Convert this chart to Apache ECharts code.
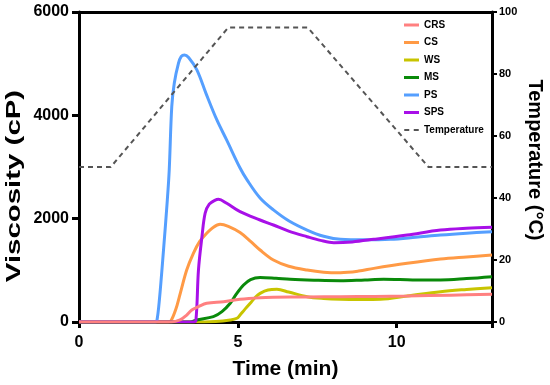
<!DOCTYPE html>
<html>
<head>
<meta charset="utf-8">
<script src="https://cdn.jsdelivr.net/npm/echarts@6/dist/echarts.min.js"></script>
<style>html,body{margin:0;padding:0;background:#fff}#c{width:550px;height:385px}</style>
</head>
<body>
<div id="c"></div>
<script>
// Data: [time (min), viscosity (cP)]
const CRS = [[0,0],[2.9,0],[3.18,39],[3.39,135],[3.55,232],[3.76,297],[4.02,362],[4.55,393],[5.07,440],[5.7,470],[6.12,478],[7.2,485],[8.23,490],[9.3,495],[10.33,503],[11.7,520],[13,536]];
const CS = [[0,0],[2.8,0],[2.9,30],[3.05,250],[3.16,490],[3.39,1006],[3.6,1330],[3.8,1560],[4.02,1717],[4.2,1820],[4.44,1890],[4.7,1850],[5.07,1730],[5.4,1560],[5.7,1393],[6.12,1200],[6.6,1080],[7.18,1006],[7.7,965],[8.23,955],[8.8,985],[9.28,1038],[10.33,1136],[11.38,1219],[12.2,1260],[13,1297]];
const WS = [[0,0],[3.5,0],[4.3,10],[4.76,39],[4.97,72],[5.07,135],[5.2,230],[5.39,362],[5.55,480],[5.7,555],[5.95,620],[6.23,632],[6.6,580],[7.18,490],[7.7,455],[8.23,439],[8.9,435],[9.49,439],[10.33,503],[11.38,587],[12.2,630],[13,664]];
const MS = [[0,0],[3.5,0],[3.7,39],[4.23,103],[4.5,200],[4.76,362],[4.95,540],[5.18,716],[5.4,820],[5.7,860],[6.2,845],[6.65,826],[7.4,810],[8.23,800],[9.0,815],[9.59,826],[10.5,815],[11.38,813],[12.2,840],[13,877]];
const PS = [[0,0],[2.4,0],[2.45,20],[2.53,426],[2.66,1393],[2.78,2361],[2.84,2940],[2.92,4167],[3.0,4625],[3.13,5006],[3.22,5140],[3.32,5170],[3.45,5120],[3.71,4880],[4.0,4420],[4.34,3910],[4.65,3520],[5.07,2980],[5.29,2750],[5.7,2400],[6.12,2170],[6.6,1960],[7.18,1780],[7.7,1660],[8.23,1600],[9.0,1590],[9.8,1600],[10.6,1640],[11.38,1684],[12.2,1720],[13.0,1748]];
const SPS = [[0,0],[3.6,0],[3.68,30],[3.76,1006],[3.87,1651],[3.97,2104],[4.1,2280],[4.29,2360],[4.39,2375],[4.65,2297],[5.07,2135],[5.7,1974],[6.12,1877],[6.6,1760],[7.18,1651],[7.6,1580],[8.02,1535],[8.6,1550],[9.28,1600],[10.33,1684],[11.38,1780],[12.2,1815],[13,1832]];
// Temperature profile [time (min), °C]
const TEMP = [[0,50],[1,50],[4.7,95],[7.2,95],[11,50],[13,50]];
const xTicks = [0,5,10];
const yTicks = [0,2000,4000,6000];
const tTicks = [0,20,40,60,80,100];

const FONT = '"Liberation Sans", Arial, sans-serif';
const chart = echarts.init(document.getElementById('c'), null, {renderer:'canvas'});
const mk = (name, data, color, z) => ({
  name, type:'line', data, smooth:0.35, symbol:'none', z,
  lineStyle:{color, width:3}, itemStyle:{color}
});
const axisLine = {show:true, onZero:false, lineStyle:{color:'#000', width:3}};
chart.setOption({
  animation:false,
  grid:{left:79, right:58, top:12, bottom:63, containLabel:false},
  legend:{
    orient:'vertical', left:399, top:14, itemWidth:15, itemHeight:3, itemGap:5.5,
    textStyle:{fontFamily:FONT, fontWeight:'bold', fontSize:10, color:'#000', lineHeight:12},
    data:[
      {name:'CRS', icon:'rect'},{name:'CS', icon:'rect'},{name:'WS', icon:'rect'},
      {name:'MS', icon:'rect'},{name:'PS', icon:'rect'},{name:'SPS', icon:'rect'},
      {name:'Temperature', icon:'path://M0 0.5H5V2.5H0Z M9.5 0.5H14.5V2.5H9.5Z M14.5 0V3H14.5Z'}
    ]
  },
  xAxis:[{
    type:'value', min:0, max:13, interval:5,
    name:'Time (min)', nameLocation:'middle', nameGap:37,
    nameTextStyle:{fontFamily:FONT, fontWeight:'bold', fontSize:21, color:'#000'},
    axisLine,
    axisTick:{show:true, length:6, lineStyle:{color:'#000', width:3}},
    axisLabel:{fontFamily:FONT, fontWeight:'bold', fontSize:16, color:'#000', margin:13,
      formatter:v => xTicks.includes(v) ? String(v) : ''},
    splitLine:{show:false}
  },{
    type:'value', position:'top', min:0, max:13,
    axisLine,
    axisTick:{show:false}, axisLabel:{show:false}, splitLine:{show:false}
  }],
  yAxis:[{
    type:'value', min:0, max:6000, interval:2000, position:'left',
    axisLine,
    axisTick:{show:true, length:7, lineStyle:{color:'#000', width:3}},
    axisLabel:{fontFamily:FONT, fontWeight:'bold', fontSize:16, color:'#000', margin:10,
      formatter:v => yTicks.includes(v) ? String(v) : ''},
    splitLine:{show:false}
  },{
    type:'value', min:0, max:100, interval:20, position:'right',
    axisLine,
    axisTick:{show:true, length:5, lineStyle:{color:'#000', width:2}},
    axisLabel:{fontFamily:FONT, fontWeight:'bold', fontSize:11, color:'#000', margin:7,
      formatter:v => tTicks.includes(v) ? String(v) : ''},
    splitLine:{show:false}
  }],
  graphic:[{
    type:'text', x:14, y:186, rotation:Math.PI/2, scaleX:1.4,
    style:{text:'Viscosity (cP)', font:'bold 21px ' + FONT, fill:'#000', align:'center', verticalAlign:'middle'}
  },{
    type:'text', x:535, y:160, rotation:-Math.PI/2,
    style:{text:'Temperature (°C)', font:'bold 20px ' + FONT, fill:'#000', align:'center', verticalAlign:'middle'}
  }],
  series:[
    mk('CS', CS, '#FF9A45', 3),
    mk('WS', WS, '#C8C400', 3),
    mk('MS', MS, '#0A8A0A', 3),
    mk('PS', PS, '#559FFF', 3),
    mk('SPS', SPS, '#A810E8', 3),
    mk('CRS', CRS, '#FF8080', 4),
    {name:'Temperature', type:'line', yAxisIndex:1, data:TEMP, symbol:'none', z:5,
     lineStyle:{color:'#555', width:2, type:[5,4]}, itemStyle:{color:'#555'}}
  ]
});
</script>
</body>
</html>
